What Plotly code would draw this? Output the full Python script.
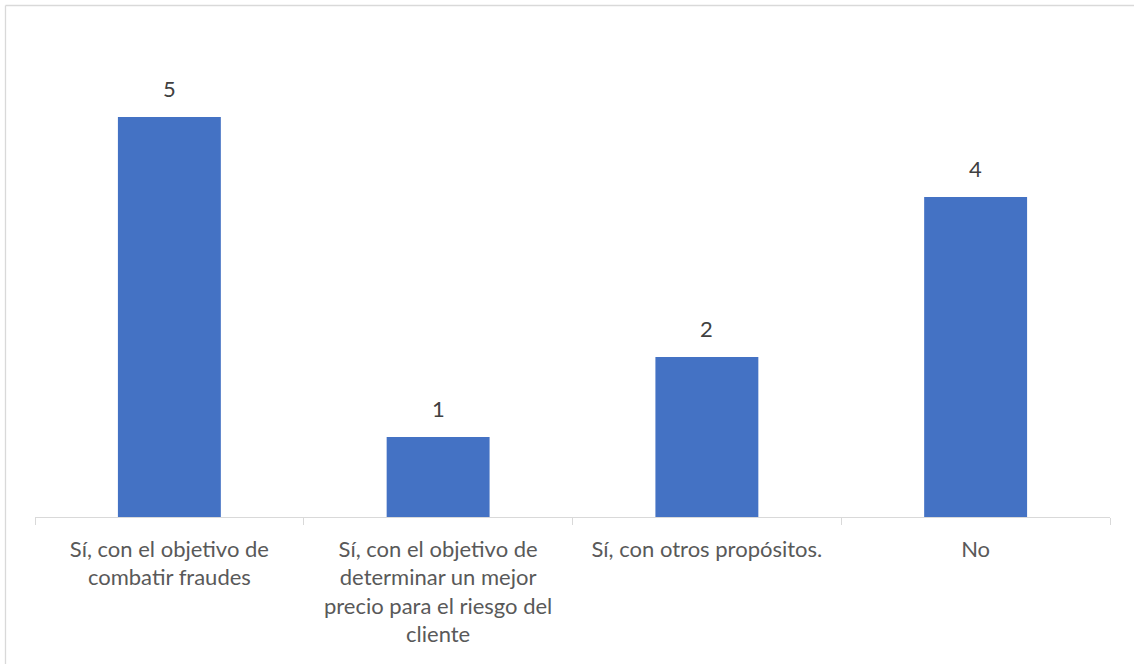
import plotly.graph_objects as go

categories = [
    "Sí, con el objetivo de combatir fraudes",
    "Sí, con el objetivo de determinar un mejor precio para el riesgo del cliente",
    "Sí, con otros propósitos.",
    "No",
]
tick_labels = [
    "Sí, con el objetivo de<br>combatir fraudes",
    "Sí, con el objetivo de<br>determinar un mejor<br>precio para el riesgo del<br>cliente",
    "Sí, con otros propósitos.",
    "No",
]
values = [5, 1, 2, 4]

W, H = 1134, 664
ml, mr, mt, mb = 35, 24, 37, 147
FONT = "Lato, 'Open Sans', sans-serif"

fig = go.Figure()
fig.add_trace(go.Bar(
    x=categories,
    y=values,
    marker=dict(color="#4472c4", line=dict(width=0)),
    hoverinfo="x+y",
))

for c, v in zip(categories, values):
    fig.add_annotation(
        x=c, y=v, xref="x", yref="y",
        text=str(v), showarrow=False,
        yanchor="bottom", yshift=13,
        font=dict(family=FONT, size=22, color="#404040"),
    )

pw = W - ml - mr
ph = H - mt - mb
x0 = (5.5 - ml) / pw
y0 = 1 + (mt - 5.5) / ph
ybot = -(mb + 5) / ph
xright = 1 + (mr + 5) / pw
fig.add_shape(type="line", xref="paper", yref="paper",
              x0=x0, x1=xright, y0=y0, y1=y0,
              line=dict(color="#d9d9d9", width=1.3))
fig.add_shape(type="line", xref="paper", yref="paper",
              x0=x0, x1=x0, y0=y0, y1=ybot,
              line=dict(color="#d9d9d9", width=1.3))

fig.update_layout(
    width=W, height=H,
    margin=dict(l=ml, r=mr, t=mt, b=mb),
    paper_bgcolor="white",
    plot_bgcolor="white",
    bargap=0.617,
    showlegend=False,
    font=dict(family=FONT, size=22, color="#595959"),
    xaxis=dict(
        type="category",
        tickmode="array",
        tickvals=categories,
        ticktext=tick_labels,
        tickson="boundaries",
        ticks="outside",
        ticklen=7,
        tickcolor="#d9d9d9",
        showline=True,
        linecolor="#d9d9d9",
        linewidth=1.3,
        showgrid=False,
        tickfont=dict(family=FONT, size=22, color="#595959"),
        ticklabelstandoff=12,
    ),
    yaxis=dict(
        range=[0, 6],
        visible=False,
        showgrid=False,
        zeroline=False,
    ),
)

fig.write_html("out.html", config={"displayModeBar": False},
               post_script="document.body.style.margin='0px';")
